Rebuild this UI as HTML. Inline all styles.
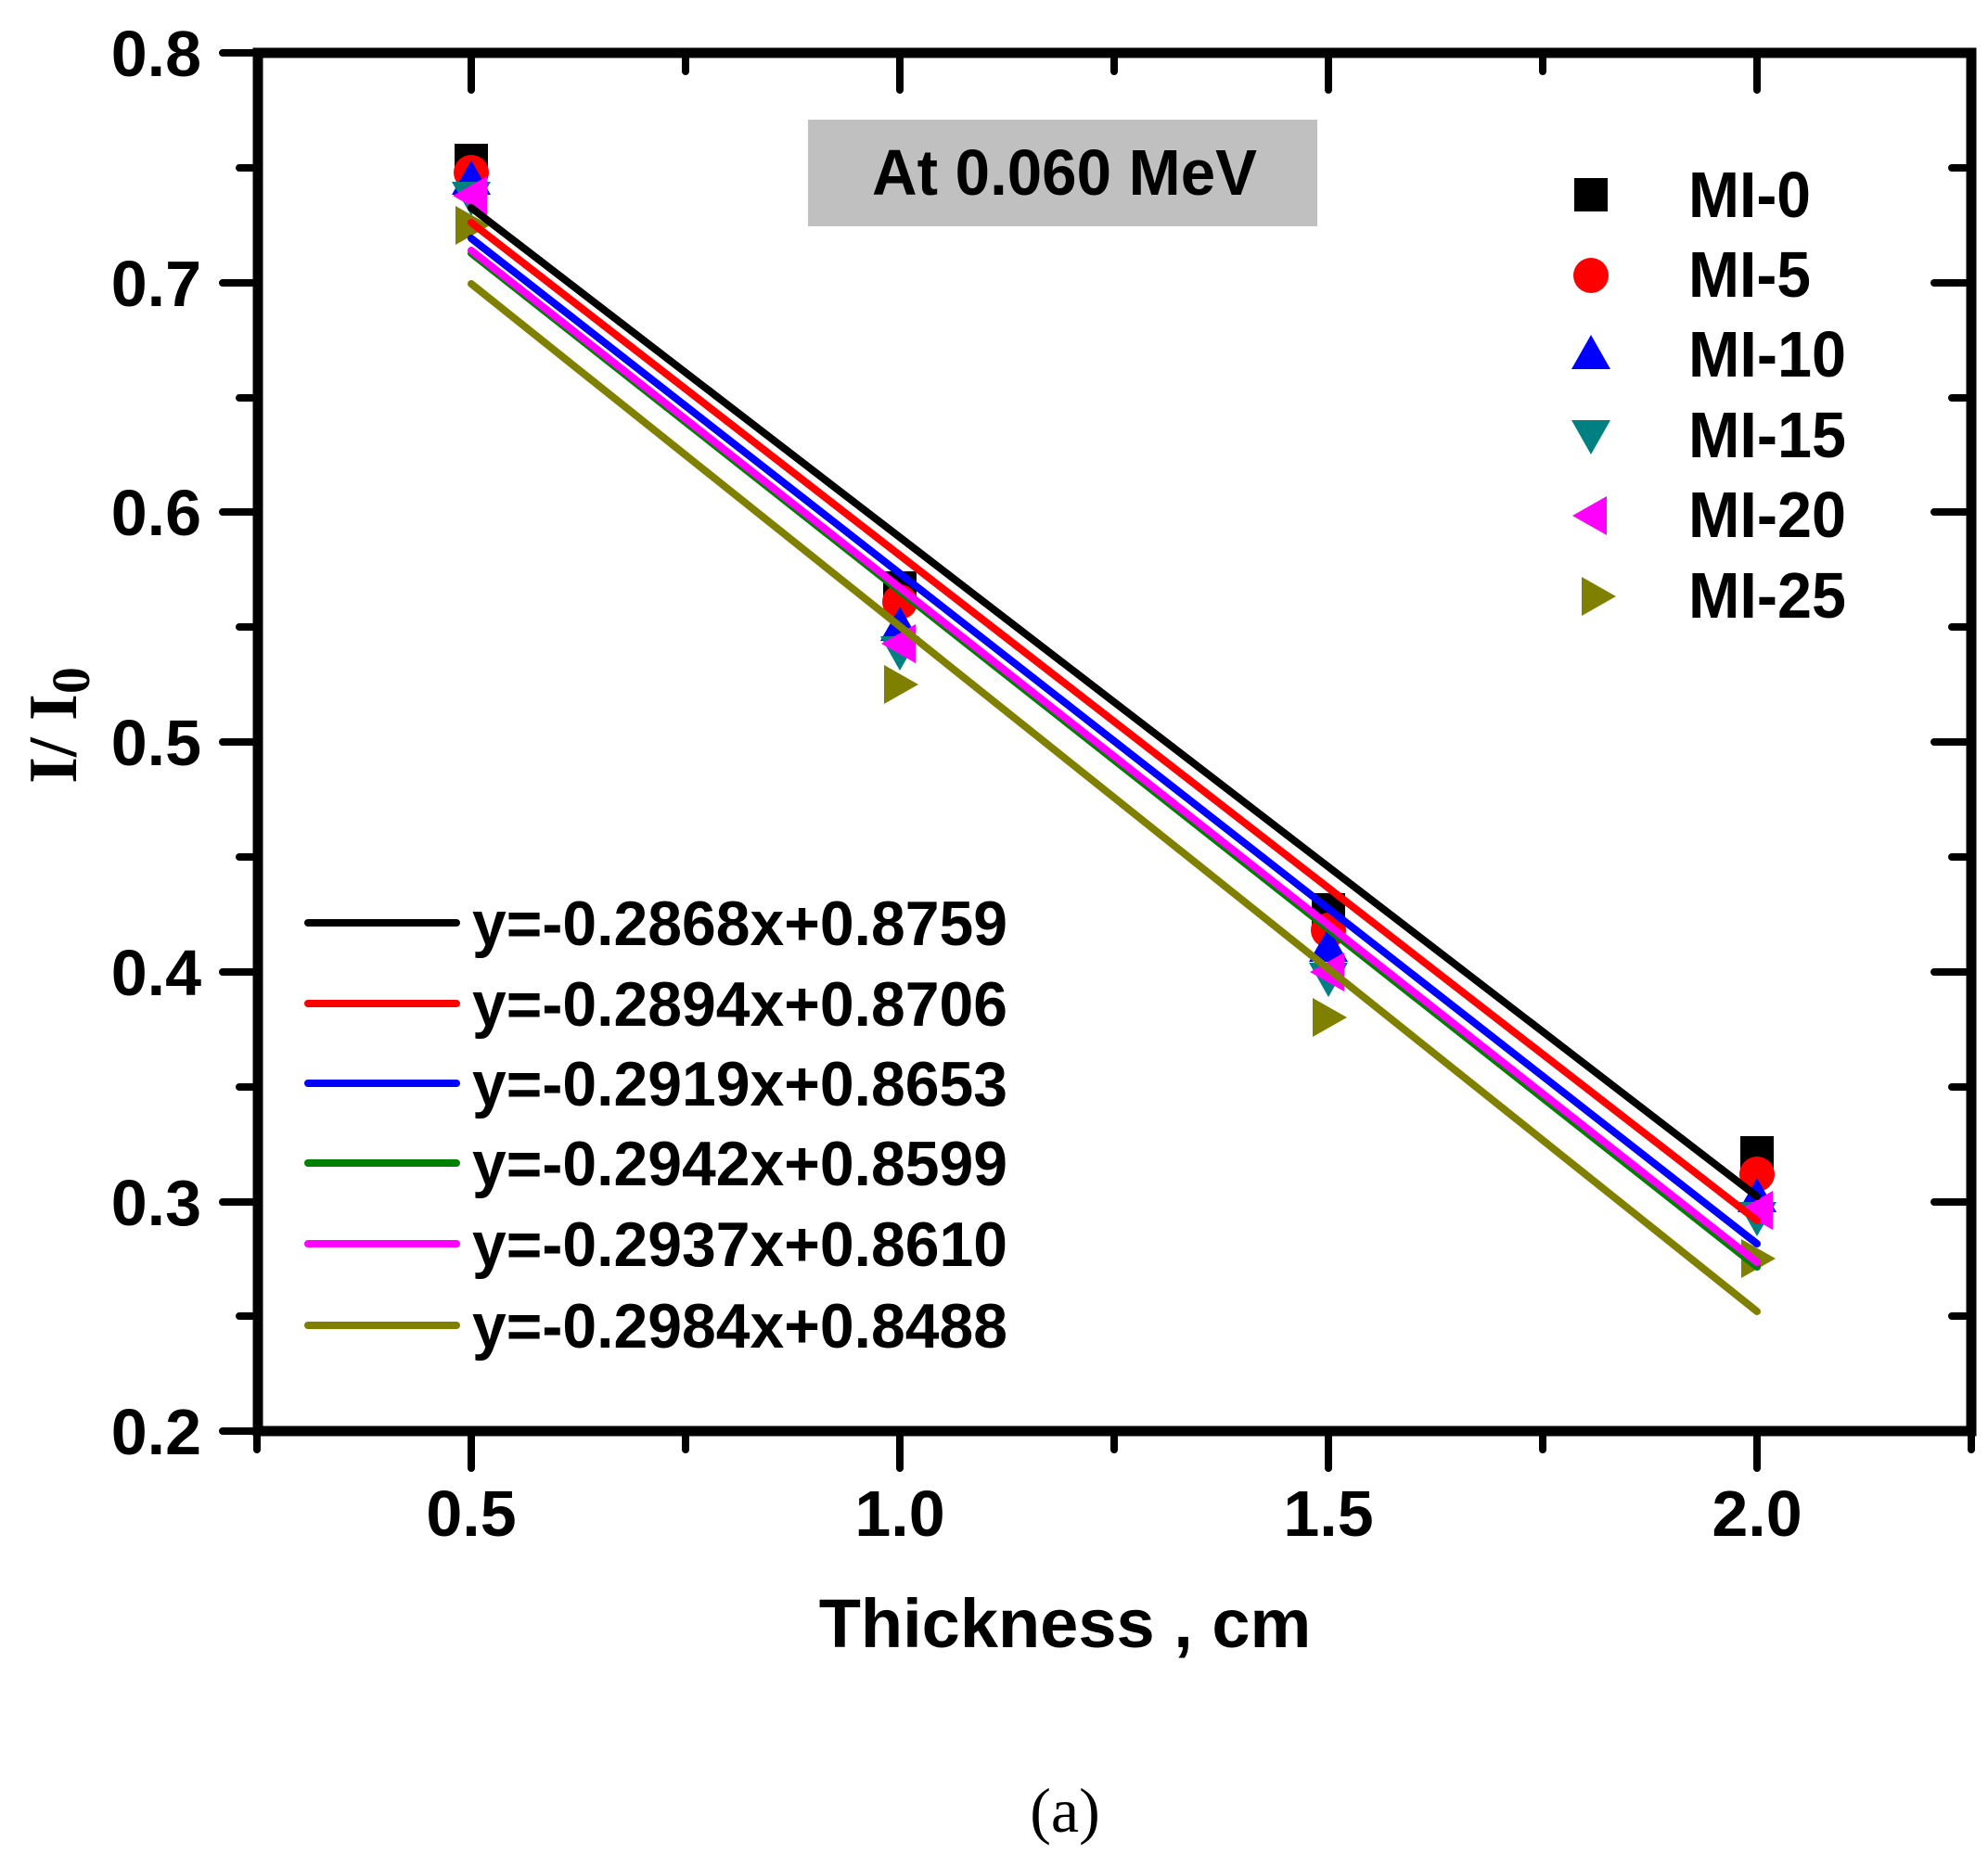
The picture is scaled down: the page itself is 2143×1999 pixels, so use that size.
<!DOCTYPE html>
<html><head><meta charset="utf-8"><style>html,body{margin:0;padding:0;background:#fff}svg{display:block}</style></head>
<body>
<svg width="2143" height="1999" viewBox="0 0 2143 1999" xmlns="http://www.w3.org/2000/svg">
<defs>
<rect id="sq" x="-18" y="-18" width="36" height="36" fill="#000"/>
<circle id="ci" r="19" fill="#ff0000"/>
<polygon id="tu" points="0,-20 21,17 -21,17" fill="#0000ff"/>
<polygon id="td" points="0,20 21,-17 -21,-17" fill="#008080"/>
<polygon id="tl" points="-20,0 17,-21 17,21" fill="#ff00ff"/>
<polygon id="tr" points="20,0 -17,-21 -17,21" fill="#808000"/>
</defs>
<rect x="871" y="129" width="549" height="115" fill="#c0c0c0"/>
<text x="940" y="210" font-family="Liberation Sans, sans-serif" font-weight="bold" font-size="70" textLength="415" lengthAdjust="spacingAndGlyphs">At 0.060 MeV</text>
<g stroke="#000" stroke-width="8" stroke-linecap="round" fill="none">
<path d="M240 57H278M240 305H278M240 552H278M240 800H278M240 1048H278M240 1296H278M240 1543H278"/>
<path d="M258 181H278M258 429H278M258 676H278M258 924H278M258 1172H278M258 1419H278"/>
<path d="M2085 57H2125M2085 305H2125M2085 552H2125M2085 800H2125M2085 1048H2125M2085 1296H2125M2085 1543H2125"/>
<path d="M2104 181H2125M2104 429H2125M2104 676H2125M2104 924H2125M2104 1172H2125M2104 1419H2125"/>
<path d="M508 1543V1583M970 1543V1583M1432 1543V1583M1894 1543V1583"/>
<path d="M277 1543V1563M739 1543V1563M1201 1543V1563M1663 1543V1563M2125 1543V1563"/>
<path d="M508 57V97M970 57V97M1432 57V97M1894 57V97"/>
<path d="M739 57V77M1201 57V77M1663 57V77"/>
</g>
<rect x="278" y="57" width="1847" height="1486" fill="none" stroke="#000" stroke-width="11"/>
<g font-family="Liberation Sans, sans-serif" font-weight="bold" font-size="70" text-anchor="end">
<text x="217" y="82">0.8</text><text x="217" y="330">0.7</text><text x="217" y="577">0.6</text><text x="217" y="825">0.5</text><text x="217" y="1073">0.4</text><text x="217" y="1321">0.3</text><text x="217" y="1568">0.2</text>
</g>
<g font-family="Liberation Sans, sans-serif" font-weight="bold" font-size="70" text-anchor="middle">
<text x="508" y="1656">0.5</text><text x="970" y="1656">1.0</text><text x="1432" y="1656">1.5</text><text x="1894" y="1656">2.0</text>
<text x="1148" y="1776" font-size="74">Thickness , cm</text>
</g>
<text transform="translate(82,782) rotate(-90)" text-anchor="middle" font-family="Liberation Serif, serif" font-weight="bold" font-size="74">I/ I<tspan font-size="58" dy="14">0</tspan></text>
<text x="1148" y="1975" text-anchor="middle" font-family="Liberation Serif, serif" font-size="68">(a)</text>
<use href="#sq" x="508" y="173"/><use href="#sq" x="970" y="634"/><use href="#sq" x="1432" y="981"/><use href="#sq" x="1894" y="1243"/>
<use href="#ci" x="508" y="186"/><use href="#ci" x="970" y="649"/><use href="#ci" x="1432" y="1003"/><use href="#ci" x="1894" y="1266"/>
<use href="#tu" x="508" y="193"/><use href="#tu" x="970" y="674"/><use href="#tu" x="1432" y="1020"/><use href="#tu" x="1894" y="1290"/>
<use href="#td" x="508" y="213"/><use href="#td" x="970" y="703"/><use href="#td" x="1432" y="1055"/><use href="#td" x="1894" y="1313"/>
<use href="#tl" x="508" y="211"/><use href="#tl" x="970" y="694"/><use href="#tl" x="1432" y="1048"/><use href="#tl" x="1894" y="1305"/>
<use href="#tr" x="508" y="243"/><use href="#tr" x="970" y="738"/><use href="#tr" x="1432" y="1097"/><use href="#tr" x="1894" y="1357"/>
<g stroke-width="8" stroke-linecap="round">
<line x1="508" y1="306" x2="1894" y2="1414" stroke="#808000"/>
<line x1="508" y1="273" x2="1894" y2="1366" stroke="#008000"/>
<line x1="508" y1="270" x2="1894" y2="1361" stroke="#ff00ff"/>
<line x1="508" y1="257" x2="1894" y2="1341" stroke="#0000ff"/>
<line x1="508" y1="240" x2="1894" y2="1316" stroke="#ff0000"/>
<line x1="508" y1="224" x2="1894" y2="1290" stroke="#000"/>
</g>
<g stroke-width="8" stroke-linecap="round">
<line x1="332" y1="995" x2="492" y2="995" stroke="#000"/>
<line x1="332" y1="1082" x2="492" y2="1082" stroke="#ff0000"/>
<line x1="332" y1="1168" x2="492" y2="1168" stroke="#0000ff"/>
<line x1="332" y1="1254" x2="492" y2="1254" stroke="#008000"/>
<line x1="332" y1="1341" x2="492" y2="1341" stroke="#ff00ff"/>
<line x1="332" y1="1429" x2="492" y2="1429" stroke="#808000"/>
</g>
<g font-family="Liberation Sans, sans-serif" font-weight="bold" font-size="68">
<text x="509" y="1019" textLength="577" lengthAdjust="spacingAndGlyphs">y=-0.2868x+0.8759</text>
<text x="509" y="1106" textLength="577" lengthAdjust="spacingAndGlyphs">y=-0.2894x+0.8706</text>
<text x="509" y="1192" textLength="577" lengthAdjust="spacingAndGlyphs">y=-0.2919x+0.8653</text>
<text x="509" y="1278" textLength="577" lengthAdjust="spacingAndGlyphs">y=-0.2942x+0.8599</text>
<text x="509" y="1365" textLength="577" lengthAdjust="spacingAndGlyphs">y=-0.2937x+0.8610</text>
<text x="509" y="1453" textLength="577" lengthAdjust="spacingAndGlyphs">y=-0.2984x+0.8488</text>
</g>
<use href="#sq" x="1715" y="210"/><use href="#ci" x="1715" y="297"/><use href="#tu" x="1715" y="381"/>
<use href="#td" x="1715" y="470"/><use href="#tl" x="1715" y="556"/><use href="#tr" x="1722" y="643"/>
<g font-family="Liberation Sans, sans-serif" font-weight="bold" font-size="70" lengthAdjust="spacingAndGlyphs">
<text x="1820" y="234" textLength="132" lengthAdjust="spacingAndGlyphs">MI-0</text>
<text x="1820" y="320" textLength="132" lengthAdjust="spacingAndGlyphs">MI-5</text>
<text x="1820" y="406" textLength="170" lengthAdjust="spacingAndGlyphs">MI-10</text>
<text x="1820" y="493" textLength="170" lengthAdjust="spacingAndGlyphs">MI-15</text>
<text x="1820" y="579" textLength="170" lengthAdjust="spacingAndGlyphs">MI-20</text>
<text x="1820" y="666" textLength="170" lengthAdjust="spacingAndGlyphs">MI-25</text>
</g>
</svg>
</body></html>
